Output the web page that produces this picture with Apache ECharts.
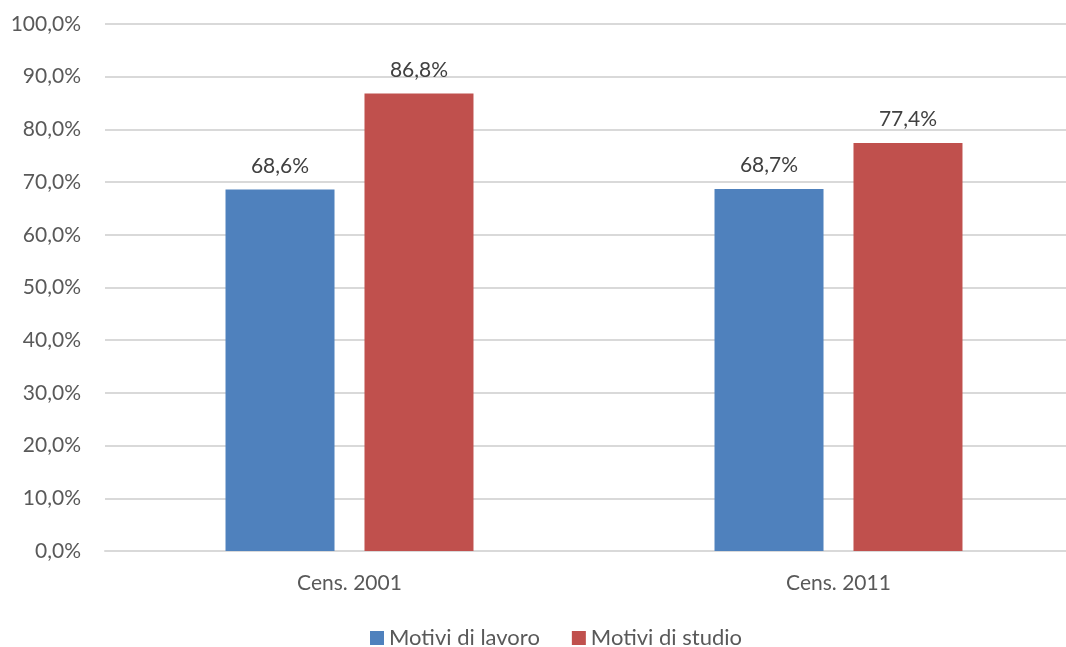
<!DOCTYPE html>
<html><head><meta charset="utf-8">
<script src="https://cdn.jsdelivr.net/npm/echarts@6/dist/echarts.min.js"></script>
<style>html,body{margin:0;padding:0;background:#fff;overflow:hidden}#c{width:1083px;height:647px}</style>
</head><body><div id="c"></div>
<script>
const categories = ['Cens. 2001', 'Cens. 2011'];
const lavoro = [68.6, 68.7];
const studio = [86.8, 77.4];
const seriesNames = ['Motivi di lavoro', 'Motivi di studio'];
const fmt = v => v.toFixed(1).replace('.', ',') + '%';
const font = 'Lato, Open Sans, sans-serif';
const chart = echarts.init(document.getElementById('c'));
const lbl = {show: true, position: 'top', distance: 13, color: '#404040', fontSize: 21, fontFamily: font,
  formatter: p => fmt(p.value)};
chart.setOption({
  animation: false,
  grid: {left: 105, top: 24, right: 0, height: 527, containLabel: false},
  legend: {top: 622, left: 365, itemWidth: 14, itemHeight: 14, itemGap: 32, icon: 'rect',
    textStyle: {color: '#595959', fontSize: 22, fontFamily: font}, data: seriesNames},
  xAxis: {type: 'category', data: categories, axisTick: {show: false},
    axisLine: {show: true, lineStyle: {color: '#D9D9D9', width: 2}},
    axisLabel: {color: '#595959', fontSize: 21, fontFamily: font, margin: 22}},
  yAxis: {type: 'value', min: 0, max: 100, interval: 10,
    axisLine: {show: false}, axisTick: {show: false},
    splitLine: {lineStyle: {color: '#D9D9D9', width: 2}},
    axisLabel: {color: '#595959', fontSize: 21, fontFamily: font, margin: 24, formatter: v => fmt(v)}},
  series: [
    {name: seriesNames[0], type: 'bar', data: lavoro, barWidth: 109, barGap: '27.5%',
      itemStyle: {color: '#4F81BD'}, label: lbl},
    {name: seriesNames[1], type: 'bar', data: studio, barWidth: 109,
      itemStyle: {color: '#C0504D'}, label: lbl}
  ]
});
</script></body></html>
